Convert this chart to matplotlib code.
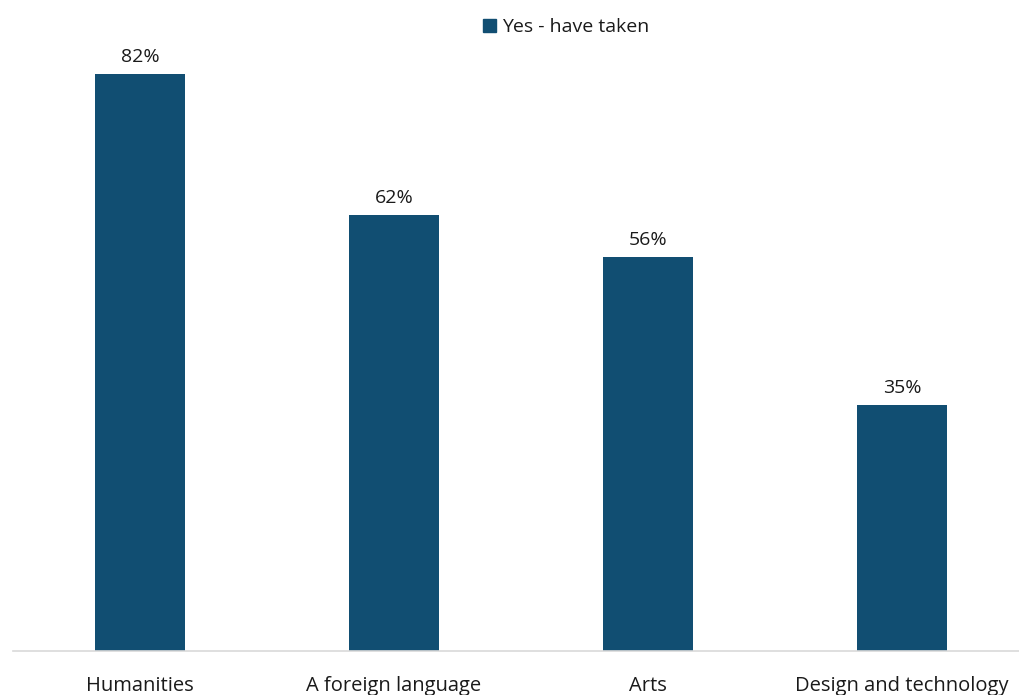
import matplotlib.pyplot as plt
from matplotlib.patches import Patch

categories = ["Humanities", "A foreign language", "Arts", "Design and technology"]
values = [82, 62, 56, 35]
series_name = "Yes - have taken"

BAR_COLOR = "#114e72"

plt.rcParams["font.family"] = ["Open Sans", "DejaVu Sans"]

fig = plt.figure(figsize=(10.19, 6.95), dpi=100)
# plot area runs a little past the right edge, as in the original export
ax = fig.add_axes([13 / 1019, (695 - 651) / 695, 1016 / 1019, 633.5 / 695])

x = list(range(len(categories)))
bars = ax.bar(x, values, width=0.354, color=BAR_COLOR)
for b, v in zip(bars, values):
    ax.text(b.get_x() + b.get_width() / 2, v + 1.1, f"{v}%",
            ha="center", va="bottom", fontsize=14, color="#1a1a1a")

ax.set_xlim(-0.5, len(categories) - 0.5)
ax.set_ylim(0, 90)
ax.set_yticks([])
ax.set_xticks(x)
ax.set_xticklabels(categories, fontsize=14.5, color="#1a1a1a")
ax.tick_params(axis="x", length=0, pad=18)
for side in ["top", "right", "left"]:
    ax.spines[side].set_visible(False)
ax.spines["bottom"].set_color("#d9d9d9")
ax.spines["bottom"].set_linewidth(1.2)

fig.legend(handles=[Patch(color=BAR_COLOR, label=series_name)],
           loc="center", bbox_to_anchor=(566 / 1019, 1 - 27 / 695),
           frameon=False, fontsize=14, handlelength=0.65, handleheight=0.65,
           handletextpad=0.3, labelcolor="#1a1a1a")

fig.savefig("out.png", dpi=100)
